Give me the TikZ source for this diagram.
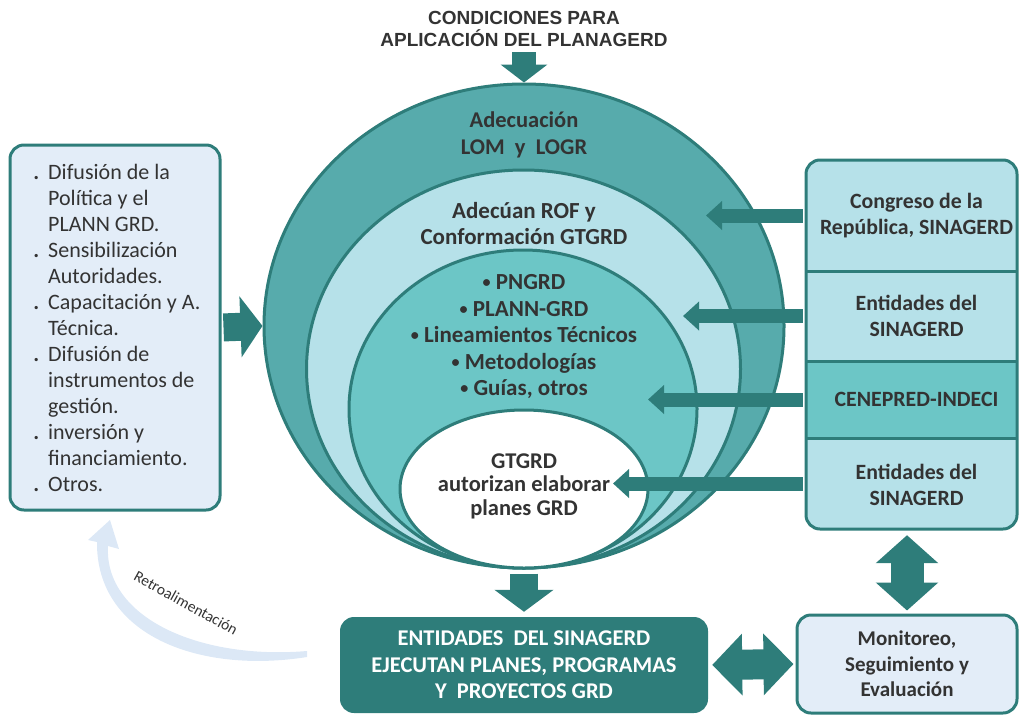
\documentclass[tikz,border=0pt]{standalone}
\usepackage{fontspec}
\setmainfont{Carlito}
\newfontfamily\titlefont{Liberation Sans}
\usetikzlibrary{shapes.geometric,arrows.meta}
\definecolor{dteal}{HTML}{2E7D7A}
\definecolor{ringA}{HTML}{57ABAC}
\definecolor{lblue}{HTML}{B6E1E9}
\definecolor{tealB}{HTML}{6CC6C6}
\definecolor{pale}{HTML}{E3EDF8}
\definecolor{retroc}{HTML}{DCE8F6}
\definecolor{txtc}{HTML}{333333}
\newcommand{\bul}{\llap{\textbf{.}\hspace{9pt}}}
\newcommand{\lbul}{\raisebox{0.09em}{\scalebox{0.7}{•}}\ }
\begin{document}
\begin{tikzpicture}[x=1pt,y=-1pt,
  txt/.style={text=txtc, font=\bfseries\fontsize{22}{26}\selectfont, align=center, inner sep=0pt},
  ring/.style={ellipse, draw=dteal, line width=3pt, inner sep=0pt},
  rbox/.style={rectangle, minimum width=211pt, inner sep=0pt},
  harrow/.style={draw=dteal, line width=14pt, -{Triangle[length=16pt,width=28pt]}},
  bigarrow/.style={draw=dteal, line width=28pt, -{Triangle[length=22pt,width=60pt]}},
  dblarrow/.style={draw=dteal, line width=30pt, {Triangle[length=30pt,width=60pt]}-{Triangle[length=30pt,width=60pt]}},
  retro/.style={fill=retroc, draw=none}
]
\useasboundingbox (0,0) rectangle (1019,715);

% title
\node[font=\titlefont\bfseries\fontsize{19}{22}\selectfont, text=txtc, align=center, inner sep=0pt] (title) at (524,29) {CONDICIONES PARA\\APLICACIÓN DEL PLANAGERD};

% rings
\node[ring, fill=ringA, minimum width=520pt, minimum height=484pt] (outer) at (524,326) {};
\node[ring, fill=lblue, minimum width=434pt, minimum height=398pt] (lb) at (523.5,369) {};
\node[ring, fill=tealB, minimum width=348pt, minimum height=318pt] (tl) at (523,409) {};
\node[ring, fill=white, minimum width=248pt, minimum height=158pt] (wh) at (524,489) {};

\node[txt, font=\bfseries\fontsize{22.5}{27}\selectfont] (t1) at (524,134.5) {Adecuación\\LOM\ \ y\ \ LOGR};
\node[txt, font=\bfseries\fontsize{23}{26}\selectfont] (t2) at (524,224) {Adecúan ROF y\\Conformación GTGRD};
\node[txt, font=\bfseries\fontsize{23}{26.5}\selectfont] (t3) at (524,337) {\lbul PNGRD\\\lbul PLANN-GRD\\\lbul Lineamientos Técnicos\\\lbul Metodologías\\\lbul Guías, otros};
\node[txt, font=\bfseries\fontsize{22.5}{23.5}\selectfont] (t4) at (524,486) {GTGRD\\autorizan elaborar\\planes GRD};

% top arrow
\coordinate (topstart) at (524,52);
\draw[draw=dteal, line width=24pt, -{Triangle[length=18pt,width=46pt]}] (topstart) -- (outer.north);

% left box
\node[draw=dteal, line width=3pt, fill=pale, rounded corners=14pt, minimum width=210pt, minimum height=365pt] (lbox) at (115,327.5) {};
\node[text=txtc, font=\fontsize{22}{26}\selectfont, align=left, anchor=west, inner sep=0pt] (ltext) at (48,327.5) {\bul Difusión de la\\Política y el\\PLANN GRD.\\\bul Sensibilización\\Autoridades.\\\bul Capacitación y A.\\Técnica.\\\bul Difusión de\\instrumentos de\\gestión.\\\bul inversión y\\financiamiento.\\\bul Otros.};
\draw[bigarrow, shorten <=2pt] (lbox.east) -- (outer.west);

% right stack
\begin{scope}
\clip[rounded corners=14pt] (806,160) rectangle (1017,529);
\node[rbox, fill=lblue, minimum height=111pt] (cong) at (911.5,215.5) {};
\node[rbox, fill=lblue, minimum height=90pt] (ent1) at (911.5,316) {};
\node[rbox, fill=tealB, minimum height=77pt] (cene) at (911.5,399.5) {};
\node[rbox, fill=lblue, minimum height=91pt] (ent2) at (911.5,483.5) {};
\end{scope}
\draw[dteal, line width=3pt] (cong.south west) -- (cong.south east);
\draw[dteal, line width=3pt] (ent1.south west) -- (ent1.south east);
\draw[dteal, line width=3pt] (cene.south west) -- (cene.south east);
\draw[dteal, line width=3pt, rounded corners=14pt] (806,160) rectangle (1017,529);
\node[txt, font=\bfseries\fontsize{21.8}{26}\selectfont] (congt) at (916.5,216) {Congreso de la\\República, SINAGERD};
\node[txt, font=\bfseries\fontsize{21.8}{26}\selectfont] (ent1t) at (916.5,316) {Entidades del\\SINAGERD};
\node[txt, font=\bfseries\fontsize{21.8}{26}\selectfont] (cenet) at (916.5,399) {CENEPRED-INDECI};
\node[txt, font=\bfseries\fontsize{21.8}{26}\selectfont] (ent2t) at (916.5,485) {Entidades del\\SINAGERD};

\coordinate (a1) at (706,215.5);
\coordinate (a2) at (683,316);
\coordinate (a3) at (648,399.5);
\coordinate (a4) at (613,483.5);
\draw[harrow, shorten <=3pt] (cong.west) -- (a1);
\draw[harrow, shorten <=3pt] (ent1.west) -- (a2);
\draw[harrow, shorten <=3pt] (cene.west) -- (a3);
\draw[harrow, shorten <=3pt] (ent2.west) -- (a4);

% bottom boxes
\node[fill=dteal, rounded corners=14pt, minimum width=368pt, minimum height=96pt, text=white, font=\bfseries\fontsize{22.5}{26.5}\selectfont, align=center, inner sep=0pt] (exec) at (524,665) {ENTIDADES\ \ DEL SINAGERD\\EJECUTAN PLANES, PROGRAMAS\\Y\ \ PROYECTOS GRD};
\node[draw=dteal, line width=3pt, fill=pale, rounded corners=14pt, minimum width=220pt, minimum height=98pt, txt, font=\bfseries\fontsize{21}{25.5}\selectfont] (mon) at (907,664) {Monitoreo,\\Seguimiento y\\Evaluación};

\draw[draw=dteal, line width=28pt, -{Triangle[length=22pt,width=58pt]}, shorten <=4pt, shorten >=5pt] (outer.south) -- (exec.north);
\draw[dblarrow, shorten <=4pt, shorten >=2pt] (exec.east) -- (mon.west);
\draw[draw=dteal, line width=33pt, {Triangle[length=28pt,width=61pt]}-{Triangle[length=28pt,width=61pt]}, shorten <=6pt, shorten >=3pt] (ent2.south -| mon.north) -- (mon.north);

% feedback arrow (tapered)
\fill[retro] (307,657) .. controls (200,674) and (96,636) .. (97,542)
  -- (88,540) -- (110,520) -- (119,549) -- (108,546)
  .. controls (104,618) and (200,660) .. (307,651) -- cycle;
\node[text=txtc, font=\fontsize{15.5}{18}\selectfont, rotate=-29, inner sep=0pt] (retrotxt) at (186,603) {Retroalimentación};
\end{tikzpicture}
\end{document}
